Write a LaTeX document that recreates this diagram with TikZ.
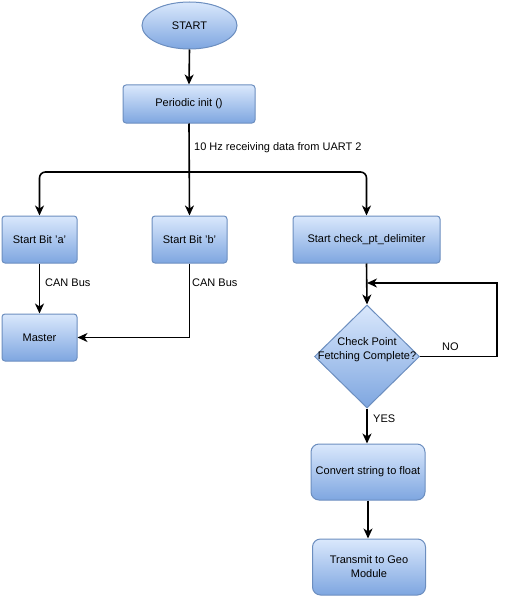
\documentclass[tikz,border=0pt]{standalone}
\usepackage{fontspec}
\setmainfont{Liberation Sans}
\usetikzlibrary{shapes.geometric,arrows.meta}
\definecolor{bfill}{HTML}{DAE8FC}
\definecolor{bdark}{HTML}{7EA6E0}
\definecolor{bline}{HTML}{6C8EBF}
\begin{document}
\begin{tikzpicture}[x=1pt,y=-1pt,
  every node/.style={font=\fontsize{11}{14}\selectfont},
  box/.style={draw=bline, line width=1pt, top color=bfill, bottom color=bdark, rounded corners=3pt, inner sep=0pt, align=center},
  bigbox/.style={box, rounded corners=8pt},
  conn/.style={line width=1.6pt, -{Stealth[length=10pt,width=9pt,inset=3pt]}},
  lbl/.style={inner sep=0pt, anchor=west}]
\useasboundingbox (0,0) rectangle (507,599);
\node[box, ellipse, minimum width=95, minimum height=47] (start) at (189.5,25.5) {START};
\node[box, minimum width=132, minimum height=38] (init) at (189,104) {Periodic init ()};
\node[box, minimum width=75, minimum height=47] (a) at (39.5,239.5) {Start Bit 'a'};
\node[box, minimum width=75, minimum height=47] (b) at (189.5,239.5) {Start Bit 'b'};
\node[box, minimum width=147, minimum height=47] (c) at (366.5,239.5) {Start check\_pt\_delimiter};
\node[box, minimum width=75, minimum height=47] (master) at (39.5,337.5) {Master};
\node[box, diamond, rounded corners=0pt, minimum width=105, minimum height=103,
  label={[align=center, inner sep=0pt, yshift=7pt, font=\fontsize{11}{14}\selectfont]center:Check Point\\Fetching Complete?}] (dec) at (367,356.5) {};
\node[bigbox, minimum width=114, minimum height=56] (conv) at (368,472) {Convert string to float};
\node[bigbox, minimum width=113, minimum height=56] (trans) at (369,567) {Transmit to Geo\\Module};

\draw[conn] (start.south) -- (init.north);
\coordinate (j) at (189,172);
\draw[conn] (init.south) -- (b.north);
\draw[conn, rounded corners=6pt] (j) -| (a.north);
\draw[conn, rounded corners=6pt] (j) -| (c.north);
\node[lbl] (l1) at (194,148) {10 Hz receiving data from UART 2};
\draw[conn] (a.south) -- (master.north);
\node[lbl] (l2) at (45,283) {CAN Bus};
\draw[conn] (b.south) |- (master.east);
\node[lbl] (l3) at (192,283) {CAN Bus};
\draw[conn] (c.south) -- (dec.north);
\coordinate (lp) at (367,283);
\draw[conn] (dec.east) -- ++(77,0) |- (lp);
\node[lbl] (l4) at (442,347) {NO};
\draw[conn] (dec.south) -- (dec.south |- conv.north);
\node[lbl] (l5) at (373,419) {YES};
\draw[conn] (conv.south) -- (conv.south |- trans.north);
\end{tikzpicture}
\end{document}
